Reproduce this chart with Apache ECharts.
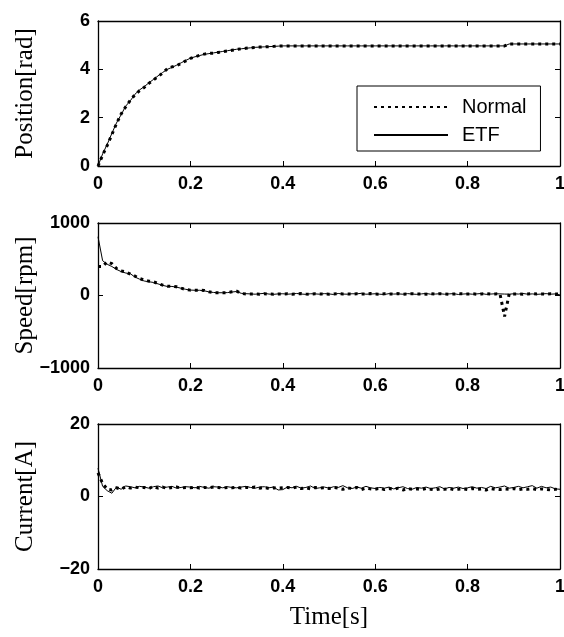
<!DOCTYPE html>
<html><head><meta charset="utf-8">
<script src="https://cdn.jsdelivr.net/npm/echarts@6/dist/echarts.min.js"></script>
<style>html,body{margin:0;padding:0;background:#fff}#c{width:564px;height:637px}</style>
</head><body><div id="c"></div><script>
const timeS = [
0.00,0.01,0.02,0.03,0.04,0.05,0.06,0.07,0.08,0.09,
0.10,0.11,0.12,0.13,0.14,0.15,0.16,0.17,0.18,0.19,
0.20,0.21,0.22,0.23,0.24,0.25,0.26,0.27,0.28,0.29,
0.30,0.31,0.32,0.33,0.34,0.35,0.36,0.37,0.38,0.39,
0.40,0.41,0.42,0.43,0.44,0.45,0.46,0.47,0.48,0.49,
0.50,0.51,0.52,0.53,0.54,0.55,0.56,0.57,0.58,0.59,
0.60,0.61,0.62,0.63,0.64,0.65,0.66,0.67,0.68,0.69,
0.70,0.71,0.72,0.73,0.74,0.75,0.76,0.77,0.78,0.79,
0.80,0.81,0.82,0.83,0.84,0.85,0.86,0.87,0.88,0.89,
0.90,0.91,0.92,0.93,0.94,0.95,0.96,0.97,0.98,0.99,1.00];

const posNormal = [
0,0.45,0.85,1.3,1.75,2.15,2.45,2.72,2.95,3.12,
3.25,3.42,3.56,3.7,3.85,4.02,4.1,4.15,4.25,4.35,
4.45,4.52,4.58,4.63,4.66,4.67,4.7,4.73,4.76,4.79,
4.82,4.85,4.87,4.89,4.9,4.92,4.93,4.94,4.95,4.96,
4.97,4.97,4.97,4.97,4.97,4.97,4.97,4.97,4.97,4.97,
4.97,4.97,4.97,4.97,4.97,4.97,4.97,4.97,4.97,4.97,
4.97,4.97,4.97,4.97,4.97,4.97,4.97,4.97,4.97,4.97,
4.97,4.97,4.97,4.97,4.97,4.97,4.97,4.97,4.97,4.97,
4.97,4.97,4.97,4.97,4.97,4.97,4.97,4.97,4.97,5.05,
5.05,5.05,5.05,5.05,5.05,5.05,5.05,5.05,5.05,5.05,5.05];
const posETF = [
0,0.5,0.9,1.35,1.78,2.12,2.48,2.7,2.97,3.15,
3.28,3.44,3.58,3.73,3.87,4.0,4.08,4.17,4.27,4.37,
4.46,4.52,4.57,4.62,4.65,4.68,4.71,4.74,4.77,4.8,
4.83,4.85,4.87,4.89,4.91,4.92,4.93,4.94,4.95,4.96,
4.97,4.97,4.97,4.97,4.97,4.97,4.97,4.97,4.97,4.97,
4.97,4.97,4.97,4.97,4.97,4.97,4.97,4.97,4.97,4.97,
4.97,4.97,4.97,4.97,4.97,4.97,4.97,4.97,4.97,4.97,
4.97,4.97,4.97,4.97,4.97,4.97,4.97,4.97,4.97,4.97,
4.97,4.97,4.97,4.97,4.97,4.97,4.97,4.97,4.97,5.05,
5.05,5.05,5.05,5.05,5.05,5.05,5.05,5.05,5.05,5.05,5.05];

const speedNormal = [
400,400,465,440,373,340,327,294,267,235,
212,198,189,166,143,129,129,120,101,83,
74,74,74,69,51,41,37,37,41,51,
60,28,22,20,22,18,25,20,18,22,
20,24,18,22,26,20,18,24,22,20,
18,22,26,20,22,18,24,20,22,26,
20,18,24,22,20,26,18,22,24,20,
22,18,26,20,24,22,18,20,26,22,
20,24,18,22,26,20,22,24,-290,22,
20,24,18,22,26,20,22,18,24,20,22];
const speedETF = [
810,480,430,400,360,330,310,300,255,225,
200,190,180,160,140,125,125,115,100,85,
75,72,72,65,50,42,38,38,40,48,
55,30,25,22,18,24,30,20,16,22,
24,18,22,28,20,16,24,22,18,26,
22,14,28,20,18,24,22,30,18,20,
24,18,14,26,20,22,18,26,20,16,
22,28,18,20,24,18,22,26,14,20,
24,18,22,28,16,20,24,22,20,18,
24,20,28,18,22,16,20,26,18,22,8];

const currentNormal = [
6.5,3.6,2.0,1.8,2.4,2.0,2.7,2.3,2.6,2.4,
2.5,2.2,2.8,2.3,2.6,2.2,2.5,2.6,2.3,2.5,
2.4,2.6,2.3,2.5,2.4,2.6,2.5,2.3,2.5,2.4,
2.6,2.3,2.5,2.4,2.6,2.3,2.5,2.2,2.4,2.3,
2.4,2.5,2.3,2.6,2.2,2.4,2.1,2.5,2.3,2.4,
2.2,2.5,2.3,2.0,2.4,2.2,2.5,1.9,2.3,2.1,
2.0,2.3,1.9,2.2,2.0,2.3,1.8,2.2,2.0,2.1,
1.9,2.2,2.0,1.8,2.1,2.0,2.2,1.9,2.0,2.1,
1.9,2.2,2.0,2.1,1.8,2.2,2.0,1.9,2.1,2.0,
2.2,1.9,2.1,2.0,2.2,1.9,2.1,2.0,1.8,2.0,1.9];
const currentETF = [
7.8,2.8,1.6,0.9,2.6,2.0,2.9,2.7,2.4,2.8,
2.6,2.3,2.7,2.9,2.4,2.6,2.8,2.3,2.5,2.7,
2.6,2.4,2.8,2.5,2.3,2.7,2.6,2.4,2.7,2.5,
2.4,2.6,2.8,2.5,2.3,2.6,2.7,2.4,2.6,1.8,
1.9,2.6,2.4,2.8,2.3,2.5,2.9,2.2,2.4,2.6,
2.3,2.7,2.5,3.0,2.4,2.2,2.6,2.3,2.8,2.4,
2.2,2.5,2.3,2.6,2.1,2.4,2.7,2.2,2.0,2.5,
2.3,2.6,2.2,2.4,2.7,2.1,2.5,2.3,2.6,2.2,
2.4,2.7,2.3,2.5,2.2,2.8,2.4,2.6,2.9,2.3,
2.5,2.8,2.4,2.7,3.0,2.3,2.8,2.4,2.6,2.1,2.0];

const yRanges = [[0,6,2],[-1000,1000,1000],[-20,20,20]];
const yNames = ['Position[rad]','Speed[rpm]','Current[A]'];
const gridTops = [21,223,424];

const pair = arr => timeS.map((t,i)=>[t,arr[i]]);
const normals = [posNormal, speedNormal, currentNormal];
const etfs = [posETF, speedETF, currentETF];

const LW = 1.3;
const labelFont = {fontFamily:'Liberation Sans', fontSize:18, fontWeight:'bold', color:'#000'};
const grids = [], xAxes = [], yAxes = [], series = [];
for (let g=0; g<3; g++){
  grids.push({left:98, top:gridTops[g], width:462, height:145, containLabel:false, outerBoundsMode:'none'});
  const xBase = {type:'value', gridIndex:g, min:0, max:1, interval:0.2, splitLine:{show:false},
    axisLine:{show:true, onZero:false, lineStyle:{color:'#000', width:LW}},
    axisTick:{show:true, inside:true, length:5, lineStyle:{color:'#000', width:1}}};
  xAxes.push(Object.assign({}, xBase, {position:'bottom',
    axisLabel:Object.assign({margin:9}, labelFont),
    name: g===2 ? 'Time[s]' : '', nameLocation:'middle', nameGap:36, nameMoveOverlap:false,
    nameTextStyle:{fontFamily:'Liberation Serif', fontSize:25, color:'#000'}}));
  xAxes.push(Object.assign({}, xBase, {position:'top', axisLabel:{show:false}}));
  const [mn,mx,iv] = yRanges[g];
  const yBase = {type:'value', gridIndex:g, min:mn, max:mx, interval:iv, splitLine:{show:false},
    axisLine:{show:true, onZero:false, lineStyle:{color:'#000', width:LW}},
    axisTick:{show:true, inside:true, length:5, lineStyle:{color:'#000', width:1}}};
  yAxes.push(Object.assign({}, yBase, {position:'left',
    axisLabel:Object.assign({margin:8, formatter:v=>String(v).replace('-','\u2212')}, labelFont),
    name:yNames[g], nameLocation:'middle', nameRotate:90, nameGap:60, nameMoveOverlap:false,
    nameTextStyle:{fontFamily:'Liberation Serif', fontSize:25, color:'#000'}}));
  yAxes.push(Object.assign({}, yBase, {position:'right', axisLabel:{show:false}}));
  series.push({name:'ETF', type:'line', xAxisIndex:2*g, yAxisIndex:2*g, data:pair(etfs[g]),
    symbol:'none', animation:false, itemStyle:{color:'#000', opacity:0},
    lineStyle:{color:'#000', width:1}, z:2});
  series.push({name:'Normal', type:'line', xAxisIndex:2*g, yAxisIndex:2*g, data:pair(normals[g]),
    symbol:'none', animation:false, itemStyle:{color:'#000', opacity:0},
    lineStyle:{color:'#000', width:3, type:[3,4], cap:'butt'}, z:3});
}

const chart = echarts.init(document.getElementById('c'), null, {renderer:'canvas'});
chart.setOption({
  backgroundColor:'#fff',
  animation:false,
  grid:grids, xAxis:xAxes, yAxis:yAxes, series:series,
  legend:{data:['Normal','ETF'], orient:'vertical', left:357, top:86,
    itemWidth:74, itemHeight:14, itemGap:8, padding:[11,14,6,16],
    borderColor:'#000', borderWidth:1, backgroundColor:'#fff',
    itemStyle:{opacity:0, borderWidth:0},
    textStyle:{fontFamily:'Liberation Sans', fontSize:20, color:'#000', lineHeight:20, padding:[0,0,0,9]}}
});
</script></body></html>
